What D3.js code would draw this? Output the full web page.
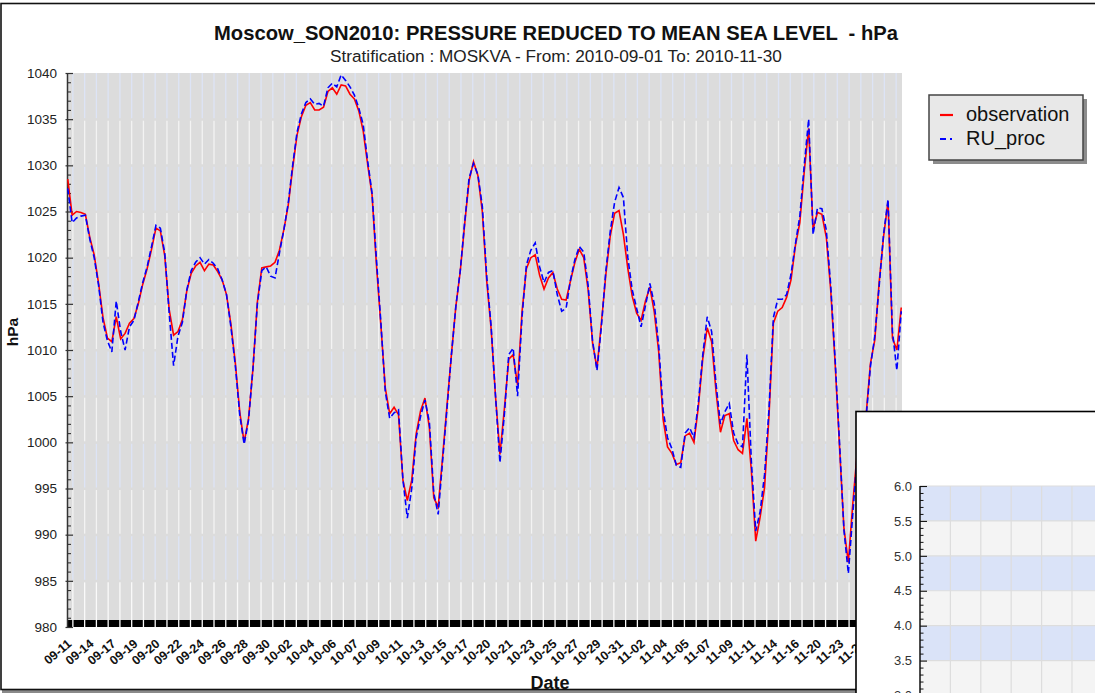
<!DOCTYPE html>
<html><head><meta charset="utf-8">
<script src="https://cdn.jsdelivr.net/npm/d3@7"></script>
<style>
body{margin:0;background:#fff;overflow:hidden;}
svg{display:block;font-family:"Liberation Sans",Arial,Helvetica,sans-serif;}
</style>
</head><body>
<svg id="chart" width="1095" height="693"></svg>
<script>
// ---------- data ----------
const titleText = "Moscow_SON2010: PRESSURE REDUCED TO MEAN SEA LEVEL  - hPa";
const subtitleText = "Stratification : MOSKVA - From: 2010-09-01 To: 2010-11-30";
const seriesNames = ["observation", "RU_proc"];
const tickLabels = ["09-11","09-14","09-17","09-19","09-20","09-22","09-24","09-26","09-28","09-30",
  "10-02","10-04","10-06","10-07","10-09","10-11","10-13","10-15","10-17","10-20",
  "10-21","10-23","10-25","10-27","10-29","10-31","11-02","11-04","11-05","11-07",
  "11-09","11-11","11-14","11-16","11-20","11-23","11-25"];
const yTicks = [980,985,990,995,1000,1005,1010,1015,1020,1025,1030,1035,1040];
const insetTicks = [3.0,3.5,4.0,4.5,5.0,5.5,6.0];
const N_CATEGORIES = 568;   // time steps on the category axis
const SAMPLE_STEP = 3;      // categories between two readings below
const LABEL_STEP = 15, LABEL_OFFSET = 2;
const GRID_STEP = 8, GRID_OFFSET = 4;

const observation = [
1028.5,1024.6,1025,1024.9,1024.7,1022.2,1020.3,1017.2,1013.5,1011.3,
1010.9,1013.6,1011.2,1011.8,1012.9,1013.4,1015.0,1017.1,1018.8,1020.9,
1023.2,1022.9,1020.2,1014.4,1011.6,1012.0,1013.3,1016.4,1018.3,1019.1,
1019.5,1018.6,1019.3,1019.2,1018.5,1017.6,1016.0,1012.8,1008.6,1003.3,
1000.0,1002.6,1008.0,1015.2,1018.9,1019.0,1019.1,1019.5,1020.8,1023.0,
1025.7,1029.7,1033.3,1035.3,1036.5,1036.8,1036.0,1036.0,1036.3,1038.0,
1038.4,1037.7,1038.7,1038.6,1037.7,1037.2,1035.9,1033.7,1030.1,1026.8,
1019.2,1012.7,1005.9,1003.1,1003.8,1003.0,995.9,993.7,995.9,1000.9,
1003.4,1004.8,1001.6,994.0,993.0,998.4,1004.0,1009.5,1014.7,1018.5,
1023.6,1028.3,1030.4,1028.9,1025.0,1017.5,1012.3,1005.0,998.7,1003.6,
1009.0,1009.5,1006.2,1014.1,1018.8,1020.0,1020.3,1018.1,1016.6,1017.8,
1018.4,1016.6,1015.5,1015.4,1017.5,1019.5,1020.9,1020.0,1016.5,1010.8,
1008.0,1012.9,1018.1,1022.3,1024.8,1025.1,1022.5,1018.8,1015.8,1014.0,
1013.2,1015.3,1016.8,1014.1,1009.8,1002.5,999.5,998.8,997.6,997.8,
1000.7,1001.0,1000.0,1003.9,1009.1,1012.4,1010.9,1005.5,1001.1,1002.9,
1003.1,1000.2,999.2,998.8,1002.6,997.0,989.3,991.9,995.1,1002.8,
1012.9,1014.2,1014.6,1015.7,1017.6,1021.3,1023.8,1029.3,1034.0,1023.1,
1024.9,1024.7,1022.2,1016.5,1008.6,999.5,990.7,987.0,993.3,998.9,
1001.0,1002.8,1008.5,1011.1,1017.4,1022.3,1026.1,1011.3,1010.0,1014.6];

const ruProc = [
1027.5,1023.8,1024.3,1024.5,1024.6,1022.0,1020.0,1017.0,1013.0,1011.0,
1009.8,1015.3,1012.0,1010.0,1012.5,1013.2,1015.2,1017.3,1019.0,1021.2,
1023.5,1023.2,1020.5,1014.0,1008.3,1011.5,1013.0,1016.5,1018.6,1019.5,
1020.0,1019.3,1019.8,1019.4,1018.8,1017.6,1016.0,1012.5,1008.3,1003.0,
999.8,1002.4,1008.0,1015.0,1018.6,1019.0,1018.0,1017.8,1020.5,1023.0,
1025.9,1030.0,1033.6,1035.6,1036.8,1037.2,1036.6,1036.7,1036.4,1038.4,
1038.9,1038.5,1039.8,1039.2,1038.5,1037.6,1036.2,1034.4,1030.5,1027.0,
1019.8,1013.0,1005.5,1002.6,1003.2,1003.5,996.0,991.8,995.0,1000.5,
1002.8,1004.6,1002.2,994.5,992.2,998.0,1003.7,1009.5,1014.7,1018.6,
1023.8,1028.6,1030.2,1029.0,1025.6,1018.0,1012.6,1005.0,997.8,1003.0,
1009.5,1010.2,1005.0,1013.5,1019.2,1020.8,1021.6,1019.0,1017.3,1018.4,
1018.6,1016.0,1014.2,1014.5,1017.6,1019.8,1021.2,1020.6,1017.0,1011.0,
1007.8,1012.5,1018.5,1022.8,1026.0,1027.6,1026.5,1020.0,1016.5,1014.5,
1012.5,1014.8,1017.2,1015.0,1010.5,1003.5,1000.5,999.3,997.5,997.3,
1001.0,1001.6,1000.5,1004.3,1009.5,1013.6,1012.0,1006.3,1002.0,1003.3,
1004.2,1001.0,999.8,999.5,1009.5,998.0,990.4,992.5,996.5,1003.5,
1013.5,1015.5,1015.5,1016.0,1018.2,1021.5,1024.5,1030.0,1035.0,1022.5,
1025.4,1025.3,1023.0,1017.0,1009.0,1000.0,990.5,985.8,992.2,998.5,
1000.6,1002.5,1008.2,1011.5,1017.0,1022.6,1026.3,1012.0,1007.8,1014.2];

// ---------- layout ----------
const svg = d3.select("#chart");
const P = {left:67, right:902, top:73, bottom:627};

const x = d3.scaleLinear().domain([0, N_CATEGORIES]).range([P.left, P.right]);
const y = d3.scaleLinear().domain([980, 1040]).range([P.bottom, P.top]);

// outer frame
svg.append("rect").attr("x",2).attr("y",690).attr("width",1100).attr("height",4).attr("fill","#8a8a8a");
svg.append("rect").attr("x",1).attr("y",3.5).attr("width",1200).attr("height",686)
  .attr("fill","#fff").attr("stroke","#111").attr("stroke-width",1.6);

// titles
svg.append("text").attr("x",556).attr("y",40).attr("text-anchor","middle")
  .style("white-space","pre")
  .attr("font-size",20.2).attr("font-weight","bold").attr("fill","#111").text(titleText);
svg.append("text").attr("x",556).attr("y",62).attr("text-anchor","middle")
  .attr("font-size",17.2).attr("fill","#222").text(subtitleText);

// plot background
svg.append("rect").attr("x",P.left).attr("y",P.top).attr("width",P.right-P.left)
  .attr("height",P.bottom-P.top).attr("fill","#dcdcdc");

// black category tick band
svg.append("rect").attr("x",P.left).attr("y",y(980)-7).attr("width",P.right-P.left)
  .attr("height",7).attr("fill","#000");

// vertical grid, broken per 5 hPa band with alternating tint
const gridIdx = d3.range(GRID_OFFSET, N_CATEGORIES, GRID_STEP);
const bands = d3.range(980, 1040, 5);
const g = svg.append("g");
bands.forEach(b => {
  const bandNo = Math.round((1040 - (b+5)) / 5);
  const col = bandNo % 2 === 0 ? "#dde4f6" : "#f3f3f3";
  const last = b === 980;
  g.selectAll(null).data(gridIdx).enter().append("line")
    .attr("x1", d => x(d)).attr("x2", d => x(d))
    .attr("y1", y(b+5) + (b+5 === 1040 ? 0 : 1.5))
    .attr("y2", y(b) - (last ? 0 : 1))
    .attr("stroke", last ? "#fafafa" : col).attr("stroke-width", 1.3);
});

// y axis
const yAxis = d3.axisLeft(y).tickValues(yTicks).tickSizeInner(-6).tickSizeOuter(0).tickPadding(10)
  .tickFormat(d3.format("d"));
const ya = svg.append("g").attr("transform",`translate(${P.left},0)`).call(yAxis);
ya.select(".domain").attr("stroke","#333").attr("stroke-width",1.5);
ya.selectAll(".tick line").attr("stroke","#333").attr("stroke-width",1.2).attr("x1",-1.5);
ya.selectAll(".tick text").attr("font-size",13.5).attr("fill","#222")
  .attr("font-family","'Liberation Sans',Arial,sans-serif");
const yMinor = d3.axisLeft(y).tickValues(d3.range(980,1040,1).filter(v => v%5!==0))
  .tickSizeInner(-4).tickSizeOuter(0).tickFormat("");
const ym = svg.append("g").attr("transform",`translate(${P.left},0)`).call(yMinor);
ym.select(".domain").remove();
ym.selectAll(".tick line").attr("stroke","#333").attr("stroke-width",1.1);

// x axis labels
const labelIdx = tickLabels.map((_, j) => LABEL_OFFSET + j*LABEL_STEP);
const xAxis = d3.axisBottom(x).tickValues(labelIdx).tickSize(0).tickPadding(0)
  .tickFormat((d,i) => tickLabels[i]);
const xa = svg.append("g").attr("transform",`translate(0,${P.bottom})`).call(xAxis);
xa.select(".domain").remove();
xa.selectAll(".tick text")
  .attr("font-size",12.5).attr("font-weight","bold").attr("fill","#111")
  .attr("font-family","'Liberation Sans',Arial,sans-serif")
  .attr("text-anchor","end").attr("dy",0).attr("y",0)
  .attr("transform","translate(2,18) rotate(-40)");

// axis titles
svg.append("text").attr("transform","translate(18,332) rotate(-90)").attr("text-anchor","middle")
  .attr("font-size",15.5).attr("font-weight","bold").attr("fill","#111").text("hPa");
svg.append("text").attr("x",550).attr("y",689).attr("text-anchor","middle")
  .attr("font-size",18).attr("font-weight","bold").attr("fill","#111").text("Date");

// series
const line = d3.line().x((d,i) => x(i*SAMPLE_STEP + 0.5)).y(d => y(d));
svg.append("path").datum(observation).attr("d", line).attr("fill","none")
  .attr("stroke","#ff0000").attr("stroke-width",1.6);
svg.append("path").datum(ruProc).attr("d", line).attr("fill","none")
  .attr("stroke","#0000ff").attr("stroke-width",1.6).attr("stroke-dasharray","6,3");

// legend
const L = svg.append("g");
L.append("rect").attr("x",933).attr("y",99).attr("width",154).attr("height",65).attr("fill","#8c8c8c");
L.append("rect").attr("x",929).attr("y",95).attr("width",154).attr("height",65)
  .attr("fill","#e8e8e8").attr("stroke","#444").attr("stroke-width",1.5);
L.append("line").attr("x1",940).attr("x2",953).attr("y1",115).attr("y2",115)
  .attr("stroke","#ff0000").attr("stroke-width",2.2);
L.append("line").attr("x1",940).attr("x2",953).attr("y1",139).attr("y2",139)
  .attr("stroke","#0000ff").attr("stroke-width",2.2).attr("stroke-dasharray","6,4,2,10");
L.selectAll("text.lg").data(seriesNames).enter().append("text")
  .attr("x",966).attr("y",(d,i) => 121 + i*24).attr("font-size",20).attr("fill","#111").text(d => d);

// overlapping window (bottom right)
const W = svg.append("g");
W.append("rect").attr("x",856).attr("y",411.5).attr("width",300).attr("height",300)
  .attr("fill","#fff").attr("stroke","#000").attr("stroke-width",1.6);
const yi = d3.scaleLinear().domain([3, 6]).range([695.5, 486]);
const xi = d3.scaleLinear().domain([0, 6]).range([920, 1102.4]);
const insetBands = d3.range(3, 6, 0.5);
W.selectAll("rect.band").data(insetBands).enter().append("rect")
  .attr("x",920).attr("width",200)
  .attr("y", d => yi(d+0.5)).attr("height", d => yi(d) - yi(d+0.5))
  .attr("fill", d => (Math.round((6 - (d+0.5))/0.5) % 2 === 0) ? "#dae3f8" : "#f4f4f4");
W.selectAll("line.vg").data(d3.range(1,7)).enter().append("line")
  .attr("x1", d => xi(d)).attr("x2", d => xi(d)).attr("y1", yi(6)).attr("y2", 700)
  .attr("stroke","#dddddd").attr("stroke-width",1.2);
W.selectAll("line.hg").data(insetTicks).enter().append("line")
  .attr("x1",920).attr("x2",1100).attr("y1", d => yi(d)).attr("y2", d => yi(d))
  .attr("stroke","#dddddd").attr("stroke-width",1.2);
const iAxis = d3.axisLeft(yi).tickValues(insetTicks).tickSizeInner(-7).tickSizeOuter(0).tickPadding(8)
  .tickFormat(d3.format(".1f"));
const ia = W.append("g").attr("transform","translate(920,0)").call(iAxis);
ia.select(".domain").attr("stroke","#111").attr("stroke-width",1.5).attr("d","M0,486V700");
ia.selectAll(".tick line").attr("stroke","#111").attr("stroke-width",1.1);
ia.selectAll(".tick text").attr("font-size",13).attr("fill","#333")
  .attr("font-family","'Liberation Sans',Arial,sans-serif");
const iMinor = d3.axisLeft(yi).tickValues(d3.range(2.9, 6, 0.1).map(v => +v.toFixed(1)).filter(v => Math.abs(v*2 - Math.round(v*2)) > 0.01))
  .tickSizeInner(-3.5).tickSizeOuter(0).tickFormat("");
const im = W.append("g").attr("transform","translate(920,0)").call(iMinor);
im.select(".domain").remove();
im.selectAll(".tick line").attr("stroke","#111").attr("stroke-width",1);
</script>
</body></html>
